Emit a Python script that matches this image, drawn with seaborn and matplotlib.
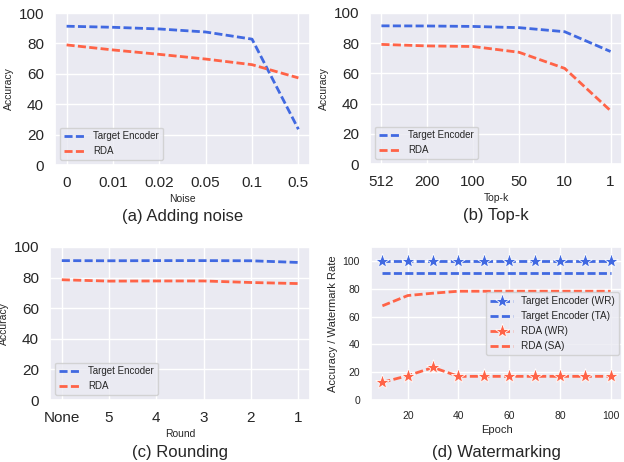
import numpy as np
import pandas as pd
import matplotlib
matplotlib.use('Agg')
import matplotlib.pyplot as plt
import seaborn as sns

sns.set_theme(style='darkgrid')
plt.rcParams['font.family'] = ['Liberation Sans', 'DejaVu Sans']

BLUE = '#4169E1'
RED = '#FF6347'
DASH = (2.9, 1.2)

# ─── data ─────────────────────────────────────────────────────────────────────
noise_labels = ['0', '0.01', '0.02', '0.05', '0.1', '0.5']
noise_te = [91.3, 90.6, 89.5, 87.5, 82.8, 23.5]
noise_rda = [79.0, 75.7, 72.8, 69.7, 66.0, 57.3]

topk_labels = ['512', '200', '100', '50', '10', '1']
topk_te = [91.5, 91.4, 91.1, 90.3, 87.6, 74.5]
topk_rda = [79.2, 78.2, 77.8, 74.0, 63.3, 35.3]

round_labels = ['None', '5', '4', '3', '2', '1']
round_te = [91.1, 91.0, 91.1, 91.1, 91.0, 89.9]
round_rda = [78.6, 77.7, 77.8, 77.8, 76.8, 76.1]

epochs = [10, 20, 30, 40, 50, 60, 70, 80, 90, 100]
wm_te_wr = [100, 100, 100, 100, 100, 100, 100, 100, 100, 100]
wm_te_ta = [91.0, 91.0, 91.0, 91.0, 91.0, 91.0, 91.0, 91.0, 91.0, 91.0]
wm_rda_wr = [12.7, 17.5, 23.4, 17.0, 17.0, 17.0, 17.0, 17.0, 17.0, 17.0]
wm_rda_sa = [67.7, 75.1, 76.8, 78.2, 78.2, 78.2, 78.2, 78.2, 78.2, 78.2]

fig = plt.figure(figsize=(6.24, 4.62), dpi=100)
W, H = 624, 462


def add_ax(l, t, r, b):
    return fig.add_axes([l / W, 1 - b / H, (r - l) / W, (b - t) / H])


def robust_panel(ax, labels, te, rda, xlabel, caption):
    pos = np.arange(len(labels))
    df = pd.DataFrame({'x': np.concatenate([pos, pos]),
                       'acc': te + rda,
                       'model': ['Target Encoder'] * len(te) + ['RDA'] * len(rda)})
    sns.lineplot(data=df, x='x', y='acc', hue='model',
                 palette={'Target Encoder': BLUE, 'RDA': RED},
                 linewidth=2, ax=ax)
    for ln in ax.get_lines():
        ln.set_dashes(DASH)
    ax.set_xticks(pos)
    ax.set_xticklabels(labels, fontsize=11)
    ax.set_ylim(0, 100)
    ax.set_yticks([0, 20, 40, 60, 80, 100])
    ax.tick_params(axis='y', labelsize=11, pad=2)
    ax.tick_params(axis='x', pad=2)
    ax.set_xlim(-0.25, len(labels) - 0.75)
    ax.set_xlabel(xlabel, fontsize=7.5, labelpad=3)
    ax.set_ylabel('Accuracy', fontsize=7.5, labelpad=3)
    leg = ax.legend(loc='lower left', fontsize=7, handlelength=2.2)
    for ln in leg.get_lines():
        ln.set_dashes(DASH)
    ax.text(0.5, -0.34, caption, transform=ax.transAxes,
            ha='center', va='center', fontsize=12)


ax_a = add_ax(55, 13, 310, 165)
robust_panel(ax_a, noise_labels, noise_te, noise_rda, 'Noise', '(a) Adding noise')

ax_b = add_ax(370, 13, 622, 164)
robust_panel(ax_b, topk_labels, topk_te, topk_rda, 'Top-k', '(b) Top-k')

ax_c = add_ax(50, 247, 310, 400)
robust_panel(ax_c, round_labels, round_te, round_rda, 'Round', '(c) Rounding')

# ─── (d) watermarking ─────────────────────────────────────────────────────────
ax_d = add_ax(371, 247, 622, 400)
series = [
    ('Target Encoder (WR)', wm_te_wr, BLUE, '*'),
    ('Target Encoder (TA)', wm_te_ta, BLUE, None),
    ('RDA (WR)', wm_rda_wr, RED, '*'),
    ('RDA (SA)', wm_rda_sa, RED, None),
]
for name, vals, col, mk in series:
    sns.lineplot(x=epochs, y=vals, color=col, linewidth=2,
                 marker=mk, markersize=11, markeredgecolor='white',
                 markeredgewidth=0.6, label=name, ax=ax_d)
for ln in ax_d.get_lines():
    ln.set_dashes(DASH)
ax_d.set_ylim(0, 110)
ax_d.set_yticks([0, 20, 40, 60, 80, 100])
ax_d.set_xticks([20, 40, 60, 80, 100])
ax_d.tick_params(labelsize=7.5, pad=2)
ax_d.set_xlabel('Epoch', fontsize=8, labelpad=3)
ax_d.set_ylabel('Accuracy / Watermark Rate', fontsize=8, labelpad=3)
leg = ax_d.legend(loc='center right', bbox_to_anchor=(1.0, 0.5), fontsize=7.2,
                  handlelength=2.3, borderaxespad=0.3)
for ln in leg.get_lines():
    ln.set_dashes(DASH)
ax_d.text(0.5, -0.34, '(d) Watermarking', transform=ax_d.transAxes,
          ha='center', va='center', fontsize=12)

fig.savefig('out.png', dpi=100)
plt.close(fig)
